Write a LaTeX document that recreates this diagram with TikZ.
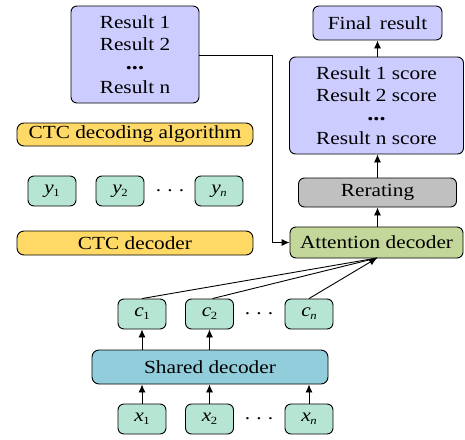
\documentclass[tikz,border=0pt]{standalone}
\usepackage{fontspec}
\setmainfont{Liberation Serif}[FakeStretch=1.15]
\usetikzlibrary{arrows.meta}
\definecolor{lav}{RGB}{204,204,255}
\definecolor{mint}{RGB}{183,229,211}
\definecolor{ylw}{RGB}{255,217,102}
\definecolor{shr}{RGB}{146,205,220}
\definecolor{att}{RGB}{196,215,155}
\definecolor{grayb}{RGB}{192,192,192}
\newcommand{\vsb}[2]{\textit{#1}\kern-0.5pt\raisebox{-3pt}{\fontsize{11}{11}\selectfont #2}}
\tikzset{
  bx/.style={draw=black, line width=0.9pt, rounded corners=6pt, inner sep=0pt, align=center, font=\fontsize{18.5}{22}\selectfont},
  sm/.style={bx, fill=mint, minimum width=48pt, minimum height=30pt, font=\fontsize{18.5}{20}\selectfont},
  dts/.style={font=\fontsize{18.5}{20}\selectfont},
  arr/.style={-{Latex[length=8pt,width=7pt]}, line width=0.9pt},
  ln/.style={line width=0.9pt},
}
\begin{document}
\begin{tikzpicture}[x=1pt,y=-1pt]
\useasboundingbox (0,0) rectangle (465,439);
% left column
\node[bx, fill=lav, minimum width=128pt, minimum height=97pt] (res) at (135,54.5) {Result 1\\Result 2\\[-3pt]\textbf{\fontsize{21}{22}\selectfont ...}\\[2pt]Result n};
\node[bx, fill=ylw, minimum width=236pt, minimum height=23pt, rounded corners=7pt] (alg) at (135,134.5) {CTC decoding algorithm};
\node[sm] (y1) at (52,191) {\vsb{y}{1}};
\node[sm] (y2) at (120,191) {\vsb{y}{2}};
\node[sm] (yn) at (219,191) {\vsb{y}{\textit{n}}};
\node[dts] (ydots) at (170,191) {.\,\,.\,\,.};
\node[bx, fill=ylw, minimum width=236pt, minimum height=24pt, rounded corners=7pt] (ctc) at (135,243) {CTC decoder};
% right column
\node[bx, fill=lav, minimum width=129pt, minimum height=34pt] (fin) at (377.5,23) {Final\, result};
\node[bx, fill=lav, minimum width=174pt, minimum height=97pt] (sc) at (376.5,105.5) {Result 1 score\\Result 2 score\\[-3pt]\textbf{\fontsize{21}{22}\selectfont ...}\\[2pt]Result n score};
\node[bx, fill=grayb, minimum width=158pt, minimum height=29pt] (rer) at (377.5,192.5) {Rerating};
\node[bx, fill=att, minimum width=173pt, minimum height=31pt] (att) at (376.5,242.5) {Attention decoder};
% bottom
\node[sm] (c1) at (142,314) {\vsb{c}{1}};
\node[sm] (c2) at (209.5,314) {\vsb{c}{2}};
\node[sm] (cn) at (309,314) {\vsb{c}{\textit{n}}};
\node[dts] (cdots) at (259,314) {.\,\,.\,\,.};
\node[bx, fill=shr, minimum width=236pt, minimum height=34pt, rounded corners=7pt] (sh) at (210,367) {Shared decoder};
\node[sm] (x1) at (142,419) {\vsb{x}{1}};
\node[sm] (x2) at (209.5,419) {\vsb{x}{2}};
\node[sm] (xn) at (309,419) {\vsb{x}{\textit{n}}};
\node[dts] (xdots) at (259,419) {.\,\,.\,\,.};
% connectors
\coordinate (tip) at (377,258);
\draw[arr] (x1.north) -- (x1.north |- sh.south);
\draw[arr] (x2.north) -- (x2.north |- sh.south);
\draw[arr] (xn.north) -- (xn.north |- sh.south);
\draw[arr] (c1.south |- sh.north) -- (c1.south);
\draw[arr] (c2.south |- sh.north) -- (c2.south);
\draw[ln] (c1.north) -- (tip);
\draw[ln] ([xshift=3pt]c2.north) -- (tip);
\draw[arr] (cn.north) -- (tip);
\draw[arr] (att.north -| rer.south) -- (rer.south);
\draw[arr] (rer.north) -- (rer.north |- sc.south);
\draw[arr] (sc.north -| fin.south) -- (fin.south);
\draw[arr] (res.east |- 0,55) -- (272,55) |- (att.west);
\end{tikzpicture}
\end{document}
